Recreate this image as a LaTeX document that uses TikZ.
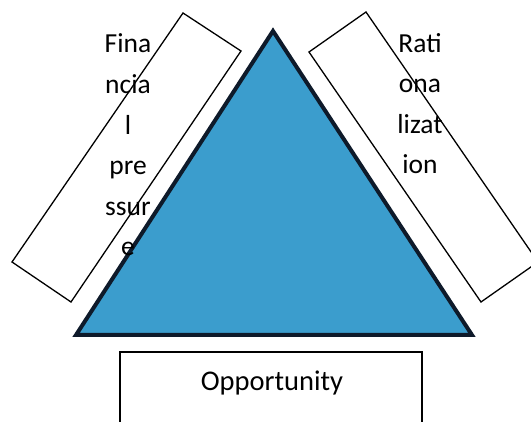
\documentclass[tikz,border=0pt]{standalone}
\usepackage{fontspec}
\setmainfont{Carlito}
\definecolor{triblue}{RGB}{59,157,205}
\definecolor{trinavy}{RGB}{14,26,42}
\begin{document}
\begin{tikzpicture}[x=1pt,y=-1pt,
  boxline/.style={draw=black,line width=1.3pt,fill=white,line join=miter},
  sidetext/.style={align=center,inner sep=0pt,anchor=base,font=\fontsize{27.5}{40.6}\selectfont},
  bottomtext/.style={inner sep=0pt,anchor=base,font=\fontsize{28.5}{34}\selectfont}]
\useasboundingbox (0,0) rectangle (531,422);
\clip (0,0) rectangle (531,422);
% triangle
\coordinate (apex) at (273,31);
\coordinate (bl) at (76,335);
\coordinate (br) at (472,335);
\draw[fill=triblue,draw=trinavy,line width=4pt,line join=miter] (apex) -- (br) -- (bl) -- cycle;
% left box
\coordinate (L1) at (183,13);
\coordinate (L2) at (241,51);
\coordinate (L3) at (71,302);
\coordinate (L4) at (12,262);
\draw[boxline,fill=none] (L1) -- (L2) -- (L3) -- (L4) -- cycle;
% right box
\coordinate (R1) at (366,12);
\coordinate (R2) at (309,52);
\coordinate (R3) at (481,302);
\coordinate (R4) at (538,262);
\draw[boxline,fill=none] (R1) -- (R2) -- (R3) -- (R4) -- cycle;
% bottom box
\coordinate (B1) at (120,352);
\coordinate (B2) at (422,440);
\draw[boxline] (B1) rectangle (B2);
% texts (base anchor = baseline of the last line)
\node[sidetext] (fin) at (128,256) {Fina\\ncia\\l\\pre\\ssur\\e};
\node[sidetext] (rat) at (420,174) {Rati\\ona\\lizat\\ion};
\node[bottomtext] (opp) at (272,391) {Opportunity};
\end{tikzpicture}
\end{document}
